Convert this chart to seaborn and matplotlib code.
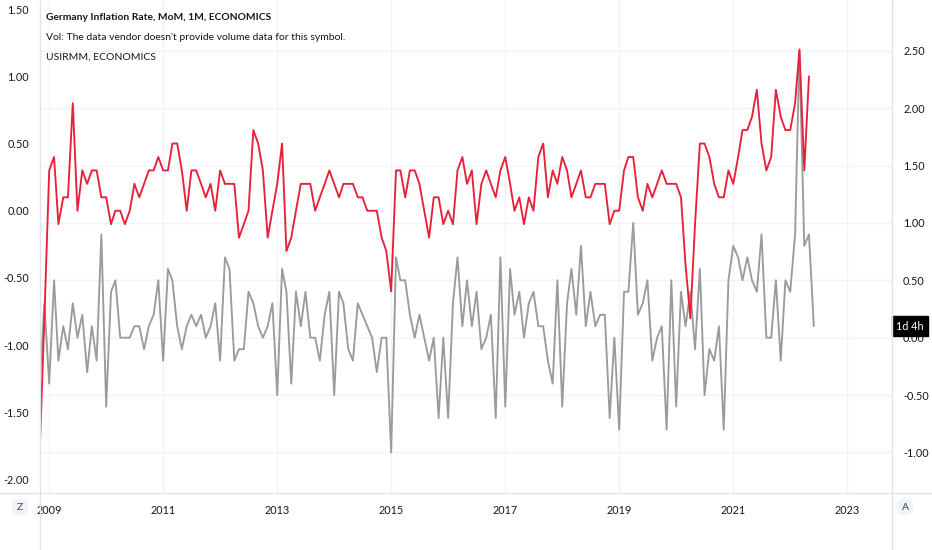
import matplotlib
matplotlib.use("Agg")
import pandas as pd
import numpy as np
import matplotlib.pyplot as plt
import matplotlib.transforms as mtransforms
from matplotlib.lines import Line2D
import seaborn as sns

# monthly values, first point Nov 2008
us_mom = [
    -1.8, -0.8,
    0.3, 0.4, -0.1, 0.1, 0.1, 0.8, 0.0, 0.3, 0.2, 0.3, 0.3, 0.1,
    0.1, -0.1, 0.0, 0.0, -0.1, 0.0, 0.2, 0.1, 0.2, 0.3, 0.3, 0.4,
    0.3, 0.3, 0.5, 0.5, 0.3, 0.0, 0.3, 0.3, 0.2, 0.1, 0.2, 0.0,
    0.3, 0.2, 0.2, 0.2, -0.2, -0.1, 0.0, 0.6, 0.5, 0.3, -0.2, 0.0,
    0.2, 0.5, -0.3, -0.2, 0.0, 0.2, 0.2, 0.2, 0.0, 0.1, 0.2, 0.3,
    0.2, 0.1, 0.2, 0.2, 0.2, 0.1, 0.1, 0.0, 0.0, 0.0, -0.2, -0.3,
    -0.6, 0.3, 0.3, 0.1, 0.3, 0.3, 0.2, 0.0, -0.2, 0.1, 0.1, -0.1,
    0.0, -0.1, 0.3, 0.4, 0.2, 0.3, -0.1, 0.2, 0.3, 0.2, 0.1, 0.3,
    0.4, 0.2, 0.0, 0.1, -0.1, 0.1, 0.0, 0.4, 0.5, 0.1, 0.3, 0.2,
    0.4, 0.3, 0.1, 0.2, 0.3, 0.1, 0.1, 0.2, 0.2, 0.2, -0.1, 0.0,
    0.0, 0.3, 0.4, 0.4, 0.1, 0.0, 0.2, 0.1, 0.2, 0.3, 0.2, 0.2,
    0.2, 0.1, -0.4, -0.8, -0.1, 0.5, 0.5, 0.4, 0.2, 0.1, 0.1, 0.3,
    0.2, 0.4, 0.6, 0.6, 0.7, 0.9, 0.5, 0.3, 0.4, 0.9, 0.7, 0.6,
    0.6, 0.8, 1.2, 0.3, 1.0,
]

de_mom = [
    -0.4, 0.3,
    -0.4, 0.5, -0.2, 0.1, -0.1, 0.3, 0.0, 0.2, -0.3, 0.1, -0.2, 0.9,
    -0.6, 0.4, 0.5, 0.0, 0.0, 0.0, 0.1, 0.1, -0.1, 0.1, 0.2, 0.5,
    -0.2, 0.6, 0.5, 0.1, -0.1, 0.1, 0.2, 0.1, 0.2, 0.0, 0.1, 0.3,
    -0.2, 0.7, 0.6, -0.2, -0.1, -0.1, 0.4, 0.3, 0.1, 0.0, 0.1, 0.3,
    -0.5, 0.6, 0.4, -0.4, 0.4, 0.1, 0.4, 0.0, 0.0, -0.2, 0.2, 0.4,
    -0.5, 0.4, 0.3, -0.1, -0.2, 0.3, 0.2, 0.1, 0.0, -0.3, 0.0, 0.0,
    -1.0, 0.7, 0.5, 0.5, 0.2, 0.0, 0.2, 0.0, -0.2, 0.0, -0.7, 0.0,
    -0.7, 0.3, 0.7, 0.1, 0.5, 0.1, 0.4, -0.1, 0.0, 0.2, -0.7, 0.7,
    -0.6, 0.6, 0.2, 0.4, 0.0, 0.3, 0.4, 0.1, 0.1, -0.2, -0.4, 0.5,
    -0.6, 0.3, 0.6, 0.2, 0.8, 0.1, 0.4, 0.1, 0.2, 0.2, -0.7, 0.0,
    -0.8, 0.4, 0.4, 1.0, 0.2, 0.3, 0.5, -0.2, 0.0, 0.1, -0.8, 0.5,
    -0.6, 0.4, 0.1, 0.4, -0.1, 0.6, -0.5, -0.1, -0.2, 0.1, -0.8, 0.5,
    0.8, 0.7, 0.5, 0.7, 0.5, 0.4, 0.9, 0.0, 0.0, 0.5, -0.2, 0.5,
    0.4, 0.9, 2.5, 0.8, 0.9, 0.1,
]

year_ticks = [2009, 2011, 2013, 2015, 2017, 2019, 2021, 2023]
left_ticks = [-2.0, -1.5, -1.0, -0.5, 0.0, 0.5, 1.0, 1.5]
right_ticks = [-1.0, -0.5, 0.0, 0.5, 1.0, 1.5, 2.0, 2.5]

us_dates = pd.date_range("2008-11-01", periods=len(us_mom), freq="MS")
de_dates = pd.date_range("2008-11-01", periods=len(de_mom), freq="MS")
df_us = pd.DataFrame({"date": us_dates, "value": us_mom})
df_de = pd.DataFrame({"date": de_dates, "value": de_mom})

sns.set_style("white")
plt.rcParams["font.family"] = ["Lato", "DejaVu Sans"]
plt.rcParams["axes.unicode_minus"] = False

TXT = "#131722"
GRID = "#f0f3fa"
EDGE = "#e0e3eb"
RED = "#e8203a"
GRAY = "#9b9b9b"
FS = 7.8

fig = plt.figure(figsize=(9.32, 5.5), dpi=100)
ax = fig.add_axes([40 / 932, 57 / 550, 852 / 932, 493 / 550])

# gray series (main symbol) on the right scale
sns.lineplot(data=df_de, x="date", y="value", ax=ax, color=GRAY, linewidth=1.35)
ax.set_ylim(-1.353, 2.942)
ax.set_yticks(right_ticks)
ax.set_yticklabels([f"{v:.2f}" for v in right_ticks])

xt = [pd.Timestamp(f"{y}-01-01") for y in year_ticks]
ax.set_xticks(xt)
ax.set_xticklabels([str(y) for y in year_ticks])
ax.set_xlim(pd.Timestamp("2008-11-03"), pd.Timestamp("2023-10-15"))
ax.grid(True, color=GRID, linewidth=1)
ax.set_xlabel("")
ax.set_ylabel("")

# red series on the left scale
axl = ax.twinx()
sns.lineplot(data=df_us, x="date", y="value", ax=axl, color=RED, linewidth=1.35)
axl.set_ylim(-2.100, 1.568)
axl.set_yticks(left_ticks)
axl.set_yticklabels([f"{v:.2f}" for v in left_ticks])
axl.set_xlim(ax.get_xlim())
axl.grid(False)
axl.set_ylabel("")

# twinx moves the first axis to the left, swap them back
ax.yaxis.tick_right()
axl.yaxis.tick_left()

for a in (ax, axl):
    a.tick_params(length=0, labelsize=FS, colors=TXT)
    for s in a.spines.values():
        s.set_visible(False)
ax.tick_params(axis="y", pad=8)
ax.tick_params(axis="x", pad=9)
axl.tick_params(axis="y", pad=8)

# pane borders running through the scale areas
fig.add_artist(Line2D([40 / 932, 40 / 932], [0, 1], color=EDGE, lw=1))
fig.add_artist(Line2D([892 / 932, 892 / 932], [0, 1], color=EDGE, lw=1))
fig.add_artist(Line2D([0, 1], [57 / 550, 57 / 550], color=EDGE, lw=1))

# countdown label at last value of the main series
trans = mtransforms.blended_transform_factory(ax.transAxes, ax.transData)
ax.text(1 + 18 / 852, de_mom[-1], "1d 4h", transform=trans, ha="center", va="center",
        color="white", fontsize=FS, zorder=10, clip_on=False,
        bbox=dict(boxstyle="square,pad=0.4", fc="black", ec="black"))

fig.text(46 / 932, 1 - 18 / 550, "Germany Inflation Rate, MoM, 1M, ECONOMICS",
         fontsize=7.4, fontweight="bold", color=TXT, va="center")
fig.text(46 / 932, 1 - 37 / 550, "Vol: The data vendor doesn't provide volume data for this symbol.",
         fontsize=7.5, color=TXT, va="center")
fig.text(46 / 932, 1 - 57 / 550, "USIRMM, ECONOMICS", fontsize=7.5, color=TXT, va="center")

fig.text(20 / 932, 1 - 507 / 550, "Z", fontsize=7.5, color="#434651", ha="center", va="center",
         bbox=dict(boxstyle="circle,pad=0.4", fc="#f0f3fa", ec="none"))
fig.text(905 / 932, 1 - 507 / 550, "A", fontsize=7.5, color="#434651", ha="center", va="center",
         bbox=dict(boxstyle="circle,pad=0.4", fc="#f0f3fa", ec="none"))

fig.savefig("out.png", dpi=100)
